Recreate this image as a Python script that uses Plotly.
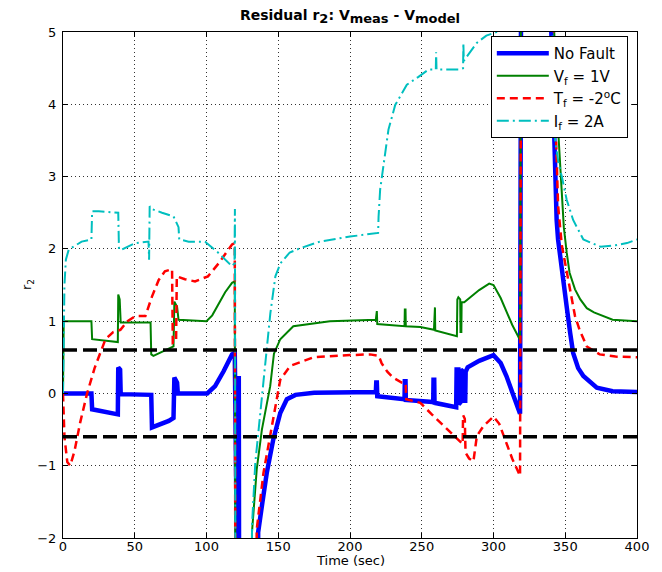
import plotly.graph_objects as go

# ---------------- data ----------------
blue_t = [0, 19.8, 20.3, 38.2, 38.5, 39.8, 40.2, 61.5, 62, 66, 73.7, 77, 77.6, 79.5, 80, 100.5, 106, 112, 117.8, 119.7,
          120.2, 122.2, 122.5, 122.8, 135.7, 136, 139, 142, 146.5, 151.4, 156, 162, 175, 218, 218.3, 218.7, 219,
          238, 238.2, 238.7, 238.9, 258, 258.2, 258.7, 258.9, 274, 274.3, 275.5, 275.8, 277, 277.3, 279, 279.3,
          280.3, 280.6, 282, 290, 300, 305, 309, 313, 318.5, 319.5, 339, 340, 342, 344, 345, 347.6, 351, 353.4,
          355.5, 359, 362.6, 372, 383, 400]
blue_y = [0, 0, -0.22, -0.29, 0.36, 0.33, -0.01, -0.02, -0.47, -0.44, -0.38, -0.34, 0.22, 0.15, 0.0, 0.0, 0.1, 0.31, 0.54, 0.56,
          -4, -4, 0.24, -4, -4, -1.92, -1.5, -1.1, -0.64, -0.27, -0.08, -0.02, 0.01, 0.02, 0.15, 0.15, -0.04,
          -0.08, 0.17, 0.17, -0.09, -0.12, 0.19, 0.19, -0.13, -0.19, 0.33, 0.33, -0.15, -0.12, 0.33, 0.3, -0.1,
          -0.1, 0.3, 0.36, 0.45, 0.53, 0.42, 0.24, 0.02, -0.28, 8, 8, 5.2, 3.5, 2.4, 2.13, 1.67, 1.2, 0.84,
          0.56, 0.35, 0.24, 0.08, 0.03, 0.02]

green_t = [0, 0.5, 19.8, 20.3, 38.2, 38.5, 39.5, 40.2, 61, 61.5, 63, 77, 77.6, 79.5, 80.5, 100, 104, 108.5, 113, 117.8, 119.7,
           120.2, 131.5, 131.7, 135, 138.6, 144.4, 147, 151.4, 160.5, 186, 218, 218.3, 218.7, 219, 238, 238.2, 238.7, 238.9,
           249, 258.5, 258.7, 259.2, 259.4, 274.5, 274.8, 275.5, 276.8, 277, 277.6, 277.8, 279.6, 285, 290, 297, 300,
           305, 309, 313, 318.5, 319.5, 340, 341.5, 344, 347, 349, 351, 353, 356.8, 360.5, 365, 370, 383, 400]
green_y = [0, 1.0, 1.0, 0.75, 0.71, 1.37, 1.3, 0.98, 0.98, 0.54, 0.52, 0.65, 1.27, 1.2, 1.02, 1.0, 1.08, 1.25, 1.4, 1.53, 1.55,
           -4, -4, -1.92, -1.05, -0.5, 0.1, 0.55, 0.75, 0.93, 1.0, 1.02, 1.14, 1.14, 0.96, 0.93, 1.16, 1.16, 0.93,
           0.92, 0.88, 1.19, 1.19, 0.87, 0.79, 1.3, 1.33, 1.3, 0.85, 0.85, 1.26, 1.26, 1.35, 1.43, 1.52, 1.5,
           1.32, 1.14, 0.95, 0.74, 8, 8, 5.5, 4.0, 2.9, 2.3, 1.95, 1.67, 1.44, 1.3, 1.18, 1.12, 1.02, 1.0]

red_t = [0, 1, 3, 5, 8, 12, 16.8, 22, 29.6, 35, 40, 45, 50.4, 57.4, 62, 66.7, 71, 76, 76.5, 78.8, 79.3, 85, 92, 101, 108.5,
         117.8, 119.7, 120.2, 134.8, 135, 139.7, 144.4, 151.4, 158.3, 174.5, 200, 214, 220, 222, 226, 230, 236, 238.8,
         239.2, 249, 257, 266.5, 277, 278.5, 278.8, 280, 280.5, 283, 286, 288.4, 293, 300, 304, 309, 313, 318.5, 319.5,
         340, 341.5, 343, 345, 347.6, 351, 353, 356.8, 360, 365, 374, 385, 400]
red_y = [0, -0.6, -0.95, -1.0, -0.8, -0.4, 0.0, 0.35, 0.75, 0.85, 0.88, 1.0, 1.07, 1.07, 1.34, 1.57, 1.69, 1.72, 0.7, 0.72,
         1.62, 1.58, 1.55, 1.62, 1.8, 2.06, 2.08, -4, -4, -1.88, -1.1, -0.6, 0.19, 0.38, 0.5, 0.53, 0.54, 0.52, 0.42,
         0.3, 0.22, 0.15, 0.14, -0.08, -0.13, -0.29, -0.47, -0.66, -0.7, -0.3, -0.35, -0.82, -0.9, -0.94, -0.59, -0.45,
         -0.32, -0.42, -0.68, -0.9, -1.14, 8, 8, 5.5, 3.9, 2.6, 2.05, 1.67, 1.44, 1.07, 0.88, 0.65, 0.54, 0.51, 0.5]

cyan_t = [0, 1, 2, 4, 13, 19.8, 20.3, 25, 38.5, 39, 41, 50.4, 59.6, 60, 60.4, 62, 69, 77, 80.5, 81, 87.6, 99, 108, 117.7,
          119.5, 119.8, 120.2, 131.5, 131.7, 134, 137.5, 141, 144.5, 148, 151.5, 158, 165.4, 179, 200, 219.6, 219.9, 221,
          223.5, 226.8, 231.5, 239.6, 247.7, 254.7, 259.8, 260, 260.3, 267.5, 275.6, 278.8, 279, 279.3, 281.4, 288.4,
          295, 305, 318.5, 319.5, 339, 341, 343, 345.3, 347.6, 351, 355.5, 362.6, 374.5, 385, 393, 400]
cyan_y = [0, 1.5, 1.85, 1.99, 2.1, 2.13, 2.52, 2.52, 2.5, 1.99, 1.99, 2.08, 2.1, 1.85, 2.59, 2.55, 2.5, 2.45, 2.3, 2.13, 2.1,
          2.1, 1.95, 1.76, 1.8, 2.55, -4, -4, -1.83, -0.96, -0.27, 0.38, 1.11, 1.62, 1.8, 1.95, 2.01, 2.1, 2.17, 2.22,
          2.44, 2.82, 3.19, 3.65, 3.99, 4.27, 4.38, 4.48, 4.48, 4.72, 4.48, 4.48, 4.48, 4.5, 4.85, 4.6, 4.66, 4.85,
          4.95, 5.02, 5.1, 8, 8, 5.0, 3.5, 3.19, 3.0, 2.68, 2.4, 2.13, 2.03, 2.05, 2.08, 2.13]

threshold = [0.6, -0.6]
x_range = [0, 400]
y_range = [-2, 5]

series = [
    ("No Fault", blue_t, blue_y, "#0000FF", 4.5, "solid"),
    ("V<sub>f</sub> = 1V", green_t, green_y, "#008000", 2, "solid"),
    ("T<sub>f</sub> = -2<sup>o</sup>C", red_t, red_y, "#FF0000", 2.5, "8px,5px"),
    ("I<sub>f</sub> = 2A", cyan_t, cyan_y, "#00BFBF", 2, "12px,4px,2px,4px"),
]

FONT = "DejaVu Sans, Liberation Sans, Arial, sans-serif"

fig = go.Figure()
for name, t, y, color, w, dash in series:
    fig.add_trace(go.Scatter(x=t, y=y, mode="lines", name=name,
                             line=dict(color=color, width=w, dash=dash)))

for th in threshold:
    fig.add_trace(go.Scatter(x=x_range, y=[th, th], mode="lines", showlegend=False,
                             line=dict(color="black", width=3.5, dash="14px,6px")))

axis_common = dict(showline=True, linecolor="black", linewidth=1, mirror="ticks",
                   ticks="inside", ticklen=5, tickcolor="black",
                   showgrid=True, gridcolor="#333333", gridwidth=1, griddash="1px,3px",
                   zeroline=False, automargin=False,
                   tickfont=dict(family=FONT, size=13, color="black"))

fig.update_xaxes(range=x_range, dtick=50, tick0=0, ticklabelstandoff=-4, **axis_common)
fig.update_yaxes(range=y_range, dtick=1, tick0=0, ticklabelstandoff=3, **axis_common)

fig.update_layout(
    width=662, height=572,
    margin=dict(l=63, r=25, t=32, b=34, autoexpand=False),
    paper_bgcolor="white", plot_bgcolor="white",
    title=dict(text="<b>Residual r<sub><span style='font-size:13px'>2</span></sub>: "
                    "V<sub><span style='font-size:13px'>meas</span></sub> - "
                    "V<sub><span style='font-size:13px'>model</span></sub></b>",
               x=0.5, xref="paper", xanchor="center", y=0.974, yref="container", yanchor="middle",
               font=dict(family=FONT, size=14, color="black")),
    legend=dict(x=0.984, y=0.992, xanchor="right", yanchor="top",
                bordercolor="black", borderwidth=1, bgcolor="white",
                font=dict(family=FONT, size=15, color="black"), itemwidth=52,
                tracegroupgap=0),
    showlegend=True,
    annotations=[
        dict(text="Time (sec)", x=0.5, y=-0.0445, xref="paper", yref="paper",
             xanchor="center", yanchor="middle", showarrow=False,
             font=dict(family=FONT, size=13, color="black")),
        dict(text="r<sub>2</sub>", x=-0.0627, y=0.5, xref="paper", yref="paper",
             xanchor="center", yanchor="middle", showarrow=False, textangle=-90,
             font=dict(family=FONT, size=13, color="black")),
    ],
)

fig.write_html("out.html")
